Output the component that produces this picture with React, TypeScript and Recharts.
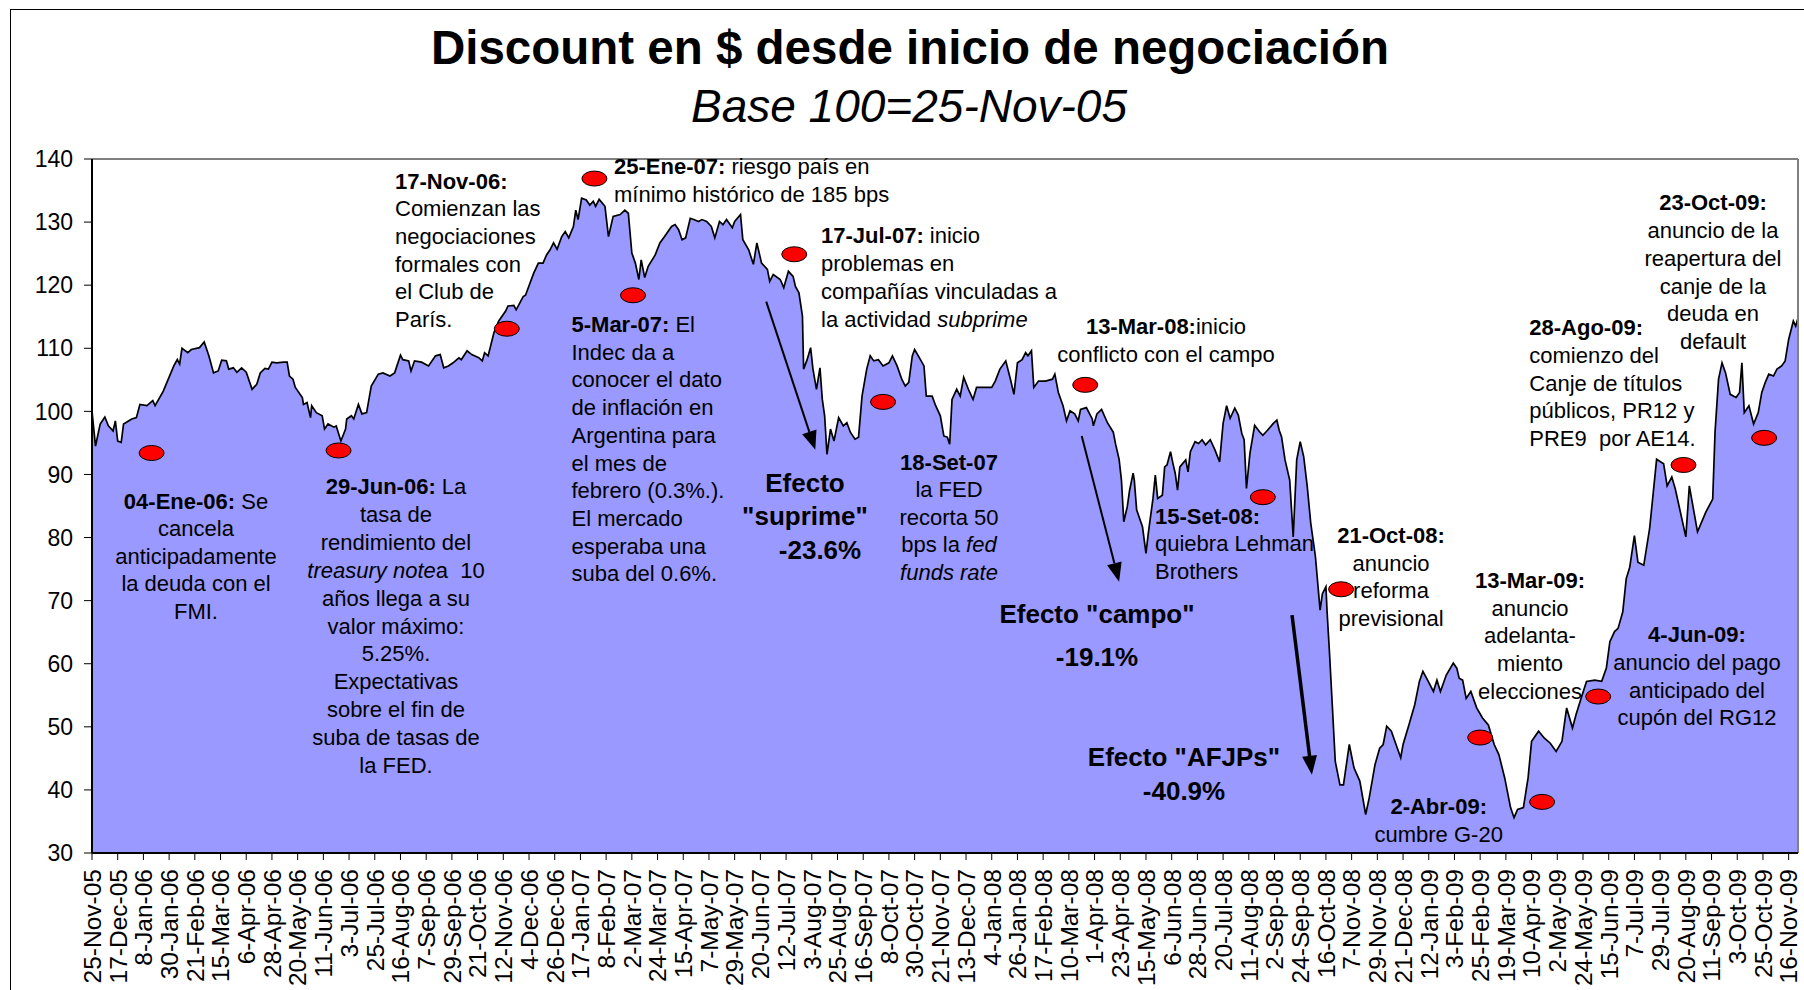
import React from 'react';
import { AreaChart, Area, XAxis, YAxis, ReferenceDot, ReferenceLine } from 'recharts';

// ---------------- DATA ----------------
// days since 25-Nov-05 (base 100)
const days = [
  0, 3, 7, 11, 14, 18, 20, 22, 25, 27, 34, 38, 41, 47, 52, 54, 61, 70, 73, 75, 77, 82, 85, 92, 96, 100,
  104, 108, 111, 115, 117, 121, 124, 128, 132, 137, 141, 144, 148, 151, 154, 158, 164, 167, 169, 172, 174,
  180, 181, 184, 187, 188, 192, 197, 199, 202, 207, 209, 213, 217, 218, 222, 224, 228, 231, 235, 239, 245,
  249, 255, 259, 264, 266, 271, 273, 276, 282, 288, 294, 298, 301, 305, 309, 314, 316, 321, 325, 331, 334,
  336, 339, 344, 348, 354, 356, 361, 363, 369, 371, 378, 382, 386, 389, 392, 395, 398, 402, 405, 408, 412,
  414, 416, 419, 423, 426, 429, 431, 434, 439, 442, 446, 452, 456, 459, 462, 465, 468, 470, 473, 476, 482,
  486, 490, 496, 499, 502, 505, 508, 512, 515, 519, 522, 526, 530, 533, 537, 540, 543, 548, 550, 555, 557,
  562, 566, 569, 573, 578, 580, 583, 589, 592, 596, 600, 602, 605, 608, 609, 612, 615, 617, 620, 623, 625,
  627, 629, 632, 635, 639, 643, 646, 649, 653, 656, 659, 663, 666, 669, 673, 677, 682, 685, 689, 693, 696,
  699, 702, 704, 709, 712, 714, 719, 722, 726, 729, 732, 734, 736, 740, 743, 746, 750, 754, 757, 762, 770,
  773, 777, 782, 786, 789, 792, 796, 799, 801, 804, 806, 810, 816, 822, 824, 827, 831, 834, 837, 841, 844,
  846, 851, 856, 857, 860, 864, 869, 874, 876, 879, 881, 883, 886, 888, 891, 892, 894, 899, 902, 904, 908,
  910, 912, 916, 918, 920, 923, 925, 927, 929, 931, 936, 938, 940, 944, 947, 950, 953, 957, 961, 965, 968,
  971, 974, 976, 978, 981, 984, 986, 988, 991, 995, 999, 1002, 1006, 1011, 1014, 1016, 1018, 1021, 1025,
  1028, 1031, 1034, 1037, 1040, 1043, 1047, 1051, 1053, 1056, 1057, 1059, 1061, 1064, 1068, 1071, 1076,
  1080, 1085, 1090, 1093, 1098, 1102, 1105, 1108, 1112, 1115, 1120, 1122, 1127, 1132, 1136, 1139, 1143,
  1148, 1151, 1154, 1159, 1165, 1168, 1170, 1173, 1176, 1180, 1185, 1190, 1195, 1200, 1204, 1209, 1214,
  1217, 1220, 1225, 1229, 1232, 1238, 1243, 1248, 1253, 1258, 1262, 1267, 1270, 1274, 1279, 1286, 1292,
  1296, 1299, 1303, 1306, 1310, 1313, 1316, 1320, 1323, 1328, 1333, 1339, 1345, 1348, 1352, 1355, 1364,
  1367, 1374, 1381, 1387, 1389, 1392, 1395, 1398, 1402, 1407, 1410, 1412, 1414, 1418, 1422, 1426, 1429,
  1432, 1435, 1439, 1442, 1446, 1449, 1452, 1456, 1458, 1460,
];

const values = [
  100.0, 94.5, 98.0, 99.1, 97.7, 96.9, 98.5, 95.3, 95.1, 98.0, 98.8, 99.0, 101.1, 100.9, 101.7, 100.9, 103.2,
  107.2, 108.2, 107.5, 110.0, 109.3, 109.8, 110.1, 111.0, 108.8,
  106.1, 106.4, 108.1, 108.0, 106.7, 106.9, 106.2, 106.9, 106.2, 103.5, 104.3, 106.1, 106.8, 106.7, 107.8,
  107.7, 107.8, 107.8, 105.6, 105.1, 103.8,
  102.2, 101.1, 101.4, 99.0, 100.9, 99.8, 99.3, 97.2, 98.0, 97.5, 97.7, 95.3, 97.2, 98.8, 99.3, 98.8, 101.1,
  99.6, 99.8, 104.0, 105.9,
  106.1, 105.6, 106.1, 108.9, 108.2, 108.0, 106.4, 108.0, 107.8, 107.2, 108.8, 109.0, 106.9, 107.2, 107.7,
  108.5, 108.2, 109.6, 109.0, 108.5, 108.0,
  109.3, 108.8, 112.5, 114.3, 115.9, 116.7, 116.8, 116.1, 118.2, 118.4, 121.9, 123.5, 123.5, 124.8, 125.6,
  126.7, 125.7, 127.7, 128.5, 127.5, 129.3,
  131.9, 130.4, 133.8, 133.5, 132.7, 133.3, 132.5, 133.6, 132.5, 127.7, 130.9, 131.2, 131.9, 131.4, 125.1,
  123.5, 120.9, 124.0, 121.2, 123.0, 124.8,
  126.7, 127.7, 129.3, 129.6, 128.8, 127.2, 127.5, 130.6, 130.4, 130.1, 130.4, 130.1, 129.3, 127.5, 130.1,
  129.6, 130.4, 129.1, 130.1, 131.2, 127.2,
  125.6, 123.3, 126.7, 123.5, 122.5, 120.6, 121.7, 120.9, 119.6, 122.2, 121.4, 119.8, 118.8, 115.1, 106.7,
  108.2, 110.1, 106.7, 103.5, 106.9, 101.9,
  99.3, 93.2, 97.2, 95.3, 99.0, 97.7, 98.2, 96.7, 95.6, 95.9, 102.4, 106.7, 108.8, 108.0, 108.2, 107.2, 107.7,
  108.8, 107.2, 105.1, 104.0,
  104.6, 108.8, 109.8, 108.2, 107.2, 102.4, 102.4, 100.9, 99.3, 96.1, 95.9, 94.8, 101.9, 103.5, 102.4, 105.4,
  103.5, 101.9, 103.8, 103.8, 103.8,
  104.8, 106.7, 108.0, 105.1, 102.7, 107.7, 108.2, 109.3, 108.8, 109.6, 103.8, 104.8, 104.8, 105.1, 105.9,
  103.0, 100.9, 98.5, 100.1, 99.6, 98.5,
  100.3, 100.6, 98.8, 97.7, 99.6, 100.3, 98.2, 96.7, 94.8, 92.4, 89.1, 82.5, 84.9, 87.5, 90.2, 89.1, 84.4,
  81.7, 77.5, 80.7, 86.2,
  89.9, 86.2, 86.7, 91.2, 91.5, 93.6, 91.8, 90.2, 87.5, 91.2, 92.3, 90.4, 93.6, 95.2, 94.9, 95.5, 94.7, 95.5,
  93.9, 92.0, 98.1,
  100.9, 98.9, 99.7, 100.5, 99.4, 96.5, 95.5, 87.8, 93.4, 97.8, 96.8, 96.2, 97.0, 98.1, 98.6, 97.0, 96.0,
  92.3, 89.1,
  80.1, 92.3, 95.2, 92.8, 88.1, 82.3, 77.0, 68.5, 71.1, 72.2, 68.2, 61.9, 55.0, 44.5, 40.8, 40.8, 47.2,
  43.5, 41.4, 36.1, 38.7, 44.0, 46.6, 47.2, 50.1, 49.3, 47.7, 45.1, 47.2, 50.3, 53.5, 57.2, 58.8, 57.4,
  55.6, 57.4, 55.6, 58.2, 60.1, 59.3, 57.7, 57.4, 54.5, 55.6, 53.0, 51.4, 50.3, 47.2, 45.6, 41.9, 37.2,
  35.6, 36.9, 37.2, 41.9, 47.7, 49.3, 48.2, 47.4, 46.1, 47.7, 53.0, 49.8, 51.9, 54.3, 57.2, 57.4, 57.2,
  59.3, 63.5, 65.1, 65.6, 68.2, 73.5, 75.3, 80.3, 76.1, 75.6, 81.4, 92.4, 91.7, 88.2, 89.6, 87.7, 80.1,
  88.2, 80.9, 84.0, 86.1, 96.7, 105.1, 107.7, 106.1, 102.7, 102.2, 103.0, 107.7, 99.8, 100.9, 98.0, 99.8, 103.0,
  104.6, 105.9, 105.6, 106.7, 107.2, 108.0, 111.4, 114.3, 113.5, 114.8,
];

const tickLabels = [
  '25-Nov-05', '17-Dec-05', '8-Jan-06', '30-Jan-06', '21-Feb-06', '15-Mar-06', '6-Apr-06', '28-Apr-06',
  '20-May-06', '11-Jun-06', '3-Jul-06', '25-Jul-06', '16-Aug-06', '7-Sep-06', '29-Sep-06', '21-Oct-06',
  '12-Nov-06', '4-Dec-06', '26-Dec-06', '17-Jan-07', '8-Feb-07', '2-Mar-07', '24-Mar-07', '15-Apr-07',
  '7-May-07', '29-May-07', '20-Jun-07', '12-Jul-07', '3-Aug-07', '25-Aug-07', '16-Sep-07', '8-Oct-07',
  '30-Oct-07', '21-Nov-07', '13-Dec-07', '4-Jan-08', '26-Jan-08', '17-Feb-08', '10-Mar-08', '1-Apr-08',
  '23-Apr-08', '15-May-08', '6-Jun-08', '28-Jun-08', '20-Jul-08', '11-Aug-08', '2-Sep-08', '24-Sep-08',
  '16-Oct-08', '7-Nov-08', '29-Nov-08', '21-Dec-08', '12-Jan-09', '3-Feb-09', '25-Feb-09', '19-Mar-09',
  '10-Apr-09', '2-May-09', '24-May-09', '15-Jun-09', '7-Jul-09', '29-Jul-09', '20-Aug-09', '11-Sep-09',
  '3-Oct-09', '25-Oct-09', '16-Nov-09',
];
const TICK_STEP_DAYS = 22;
const LAST_DAY = 1460;
const yTicks = [30, 40, 50, 60, 70, 80, 90, 100, 110, 120, 130, 140];

// event markers (day, value)
const eventDays = [51, 211, 355, 430, 463, 601, 677, 850, 1002, 1069, 1188, 1241, 1289, 1362, 1431];
const eventValues = [93.4, 93.8, 113.1, 136.9, 118.4, 124.9, 101.5, 104.2, 86.4, 71.8, 48.3, 38.1, 54.8, 91.5, 95.8];

// arrows (day, value) start -> end
const arrowFromDays = [577, 847, 1027];
const arrowFromValues = [117.4, 96.1, 67.7];
const arrowToDays = [619, 879, 1044];
const arrowToValues = [93.9, 73.0, 42.4];

// ---------------- BUILD ----------------
const data = days.map((d, i) => ({ day: d, value: values[i] }));
const xTicks = tickLabels.map((_, i) => i * TICK_STEP_DAYS);

const FONT = '"Liberation Sans", Arial, Helvetica, sans-serif';
const arrowWidths = [2, 2, 3.5];

const XTick = (props: any) => {
  const { x, y, payload } = props;
  const idx = Math.round(payload.value / TICK_STEP_DAYS);
  return (
    <text
      x={x}
      y={y}
      transform={`rotate(-90, ${x}, ${y})`}
      textAnchor="end"
      dy="0.36em"
      fontSize={24.5}
      fontFamily={FONT}
      fill="#000"
    >
      {tickLabels[idx]}
    </text>
  );
};

const makeArrow = (w: number) => (p: any) => {
  const { x1, y1, x2, y2 } = p;
  const dx = x2 - x1;
  const dy = y2 - y1;
  const len = Math.hypot(dx, dy) || 1;
  const ux = dx / len;
  const uy = dy / len;
  const hl = 19;
  const hw = 7.5;
  const bx = x2 - ux * hl;
  const by = y2 - uy * hl;
  const px = -uy;
  const py = ux;
  return (
    <g>
      <line x1={x1} y1={y1} x2={bx} y2={by} stroke="#000" strokeWidth={w} />
      <polygon
        points={`${x2},${y2} ${bx + px * hw},${by + py * hw} ${bx - px * hw},${by - py * hw}`}
        fill="#000"
      />
    </g>
  );
};

const dotShape = (p: any) => (
  <ellipse cx={p.cx} cy={p.cy} rx={12.5} ry={7.5} fill="#FF0000" stroke="#000" strokeWidth={1} />
);

type NoteProps = {
  x: number;
  top: number;
  align: 'left' | 'center';
  lh: number;
  size?: number;
  bold?: boolean;
  children: React.ReactNode;
};

const Note = ({ x, top, align, lh, size = 22, bold = false, children }: NoteProps) => (
  <div
    style={{
      position: 'absolute',
      left: x,
      top,
      transform: align === 'center' ? 'translateX(-50%)' : undefined,
      textAlign: align,
      fontSize: size,
      lineHeight: `${lh}px`,
      fontWeight: bold ? 'bold' : 'normal',
      whiteSpace: 'pre',
      color: '#000',
      fontFamily: FONT,
    }}
  >
    {children}
  </div>
);

export default function App() {
  return (
    <div
      style={{
        position: 'absolute',
        left: 0,
        top: 0,
        width: 1804,
        height: 990,
        overflow: 'hidden',
        background: '#fff',
        fontFamily: FONT,
      }}
    >
      <div
        style={{
          position: 'absolute',
          left: 10,
          top: 9,
          width: 1900,
          height: 1100,
          border: '1.5px solid #000',
        }}
      />
      <div style={{ position: 'absolute', left: 0, top: 0 }}>
        <AreaChart width={1804} height={990} data={data} margin={{ top: 159, right: 6, bottom: 0, left: 0 }}>
          <XAxis
            dataKey="day"
            type="number"
            domain={[0, LAST_DAY]}
            ticks={xTicks}
            interval={0}
            height={137}
            tickSize={7}
            tickMargin={9}
            tick={<XTick />}
            axisLine={{ stroke: '#000', strokeWidth: 2 }}
            tickLine={{ stroke: '#000', strokeWidth: 1 }}
            allowDataOverflow
          />
          <YAxis
            type="number"
            domain={[30, 140]}
            ticks={yTicks}
            interval={0}
            width={92}
            tickSize={8}
            tickMargin={11}
            tick={{ fontSize: 23, fill: '#000', fontFamily: FONT }}
            axisLine={{ stroke: '#000', strokeWidth: 2 }}
            tickLine={{ stroke: '#000', strokeWidth: 1 }}
            allowDataOverflow
          />
          <Area
            type="linear"
            dataKey="value"
            stroke="#000"
            strokeWidth={1.7}
            fill="#9999FF"
            fillOpacity={1}
            baseValue="dataMin"
            dot={false}
            activeDot={false}
            isAnimationActive={false}
          />
          <ReferenceLine y={140} stroke="#808080" strokeWidth={2} />
          <ReferenceLine x={LAST_DAY} stroke="#808080" strokeWidth={2} />
          {arrowFromDays.map((d, i) => (
            <ReferenceLine
              key={'a' + i}
              segment={[
                { x: d, y: arrowFromValues[i] },
                { x: arrowToDays[i], y: arrowToValues[i] },
              ]}
              shape={makeArrow(arrowWidths[i])}
            />
          ))}
          {eventDays.map((d, i) => (
            <ReferenceDot key={'e' + i} x={d} y={eventValues[i]} r={8} shape={dotShape} />
          ))}
        </AreaChart>
      </div>

      {/* Title */}
      <Note x={910} top={24} align="center" lh={47.5} size={47.5} bold>
        Discount en $ desde inicio de negociación
      </Note>
      <Note x={909} top={83} align="center" lh={46} size={46}>
        <i>Base 100=25-Nov-05</i>
      </Note>

      {/* Annotations */}
      <Note x={196} top={488} align="center" lh={27.4}>
        <b>04-Ene-06:</b> Se{'\n'}cancela{'\n'}anticipadamente{'\n'}la deuda con el{'\n'}FMI.
      </Note>
      <Note x={396} top={473} align="center" lh={27.9}>
        <b>29-Jun-06:</b> La{'\n'}tasa de{'\n'}rendimiento del{'\n'}<i>treasury note</i>a  10{'\n'}años llega a su{'\n'}valor máximo:{'\n'}5.25%.{'\n'}Expectativas{'\n'}sobre el fin de{'\n'}suba de tasas de{'\n'}la FED.
      </Note>
      <Note x={395} top={167.5} align="left" lh={27.7}>
        <b>17-Nov-06:</b>{'\n'}Comienzan las{'\n'}negociaciones{'\n'}formales con{'\n'}el Club de{'\n'}París.
      </Note>
      <Note x={614} top={153} align="left" lh={28.3}>
        <b>25-Ene-07:</b> riesgo país en{'\n'}mínimo histórico de 185 bps
      </Note>
      <Note x={571.5} top={311} align="left" lh={27.7}>
        <b>5-Mar-07:</b> El{'\n'}Indec da a{'\n'}conocer el dato{'\n'}de inflación en{'\n'}Argentina para{'\n'}el mes de{'\n'}febrero (0.3%.).{'\n'}El mercado{'\n'}esperaba una{'\n'}suba del 0.6%.
      </Note>
      <Note x={821} top={222} align="left" lh={28}>
        <b>17-Jul-07:</b> inicio{'\n'}problemas en{'\n'}compañías vinculadas a{'\n'}la actividad <i>subprime</i>
      </Note>
      <Note x={805} top={466.5} align="center" lh={33.5} size={26} bold>
        Efecto{'\n'}"suprime"{'\n'}
        <span style={{ paddingLeft: 30 }}>-23.6%</span>
      </Note>
      <Note x={949} top={448.5} align="center" lh={27.6}>
        <b>18-Set-07</b>{'\n'}la FED{'\n'}recorta 50{'\n'}bps la <i>fed</i>{'\n'}<i>funds rate</i>
      </Note>
      <Note x={1166} top={312.7} align="center" lh={28.3}>
        <b>13-Mar-08:</b>inicio{'\n'}conflicto con el campo
      </Note>
      <Note x={1155} top={502.7} align="left" lh={27.5}>
        <b>15-Set-08:</b>{'\n'}quiebra Lehman{'\n'}Brothers
      </Note>
      <Note x={1097} top={593} align="center" lh={42.5} size={26} bold>
        Efecto "campo"{'\n'}-19.1%
      </Note>
      <Note x={1184} top={739.5} align="center" lh={34.5} size={26} bold>
        Efecto "AFJPs"{'\n'}-40.9%
      </Note>
      <Note x={1391} top={522} align="center" lh={27.5}>
        <b>21-Oct-08:</b>{'\n'}anuncio{'\n'}reforma{'\n'}previsional
      </Note>
      <Note x={1530} top={567} align="center" lh={27.7}>
        <b>13-Mar-09:</b>{'\n'}anuncio{'\n'}adelanta-{'\n'}miento{'\n'}elecciones
      </Note>
      <Note x={1438.7} top={792.7} align="center" lh={28.3}>
        <b>2-Abr-09:</b>{'\n'}cumbre G-20
      </Note>
      <Note x={1697} top={621} align="center" lh={27.8}>
        <b>4-Jun-09:</b>{'\n'}anuncio del pago{'\n'}anticipado del{'\n'}cupón del RG12
      </Note>
      <Note x={1529.3} top={313.7} align="left" lh={27.9}>
        <b>28-Ago-09:</b>{'\n'}comienzo del{'\n'}Canje de títulos{'\n'}públicos, PR12 y{'\n'}PRE9  por AE14.
      </Note>
      <Note x={1713} top={189.3} align="center" lh={27.8}>
        <b>23-Oct-09:</b>{'\n'}anuncio de la{'\n'}reapertura del{'\n'}canje de la{'\n'}deuda en{'\n'}default
      </Note>
    </div>
  );
}
